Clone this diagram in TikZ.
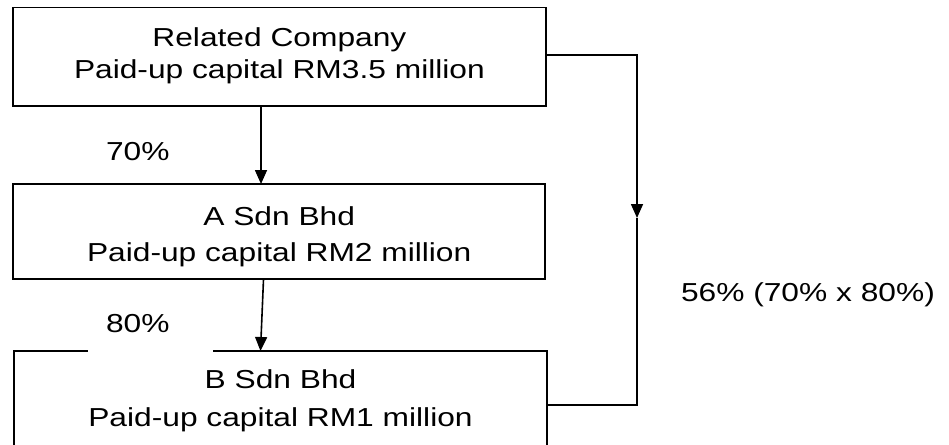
\documentclass[tikz,border=0pt]{standalone}
\usepackage{fontspec}
\setmainfont{Liberation Sans}[FakeStretch=1.22]
\usetikzlibrary{arrows.meta}
\begin{document}
\begin{tikzpicture}[x=1pt,y=-1pt,
  box/.style={draw=black, line width=1.8pt, inner sep=0pt, outer sep=0pt},
  txt/.style={font=\fontsize{26}{31}\selectfont, anchor=base, inner sep=0pt, outer sep=0pt},
  conn/.style={draw=black, line width=1.6pt},
  tiphead/.style={-{Triangle[width=12pt,length=14pt]}}]
\useasboundingbox (0,0) rectangle (949,444);
\clip (0,0) rectangle (949,444);
\fill[white] (0,0) rectangle (949,444);
% boxes
\node[box, minimum width=532.7pt, minimum height=98.5pt] (b1) at (279.35,56.75) {};
\node[box, minimum width=532.3pt, minimum height=95.3pt] (b2) at (279.15,231.65) {};
\node[box, minimum width=533pt, minimum height=149pt] (b3) at (280.5,425.5) {};
% box texts
\node[txt] (t1a) at (279.4,46.7) {Related Company};
\node[txt] (t1b) at (279.4,78.3) {Paid-up capital RM3.5 million};
\node[txt] (t2a) at (279.2,225) {A Sdn Bhd};
\node[txt] (t2b) at (279.2,261) {Paid-up capital RM2 million};
\node[txt] (t3a) at (280.5,388.7) {B Sdn Bhd};
\node[txt] (t3b) at (280.5,426) {Paid-up capital RM1 million};
% connectors
\draw[conn,tiphead] (261,0 |- b1.south) -- (261,0 |- b2.north);
\draw[conn,tiphead] (263.5,0 |- b2.south) -- (260.5,0 |- b3.north);
\coordinate (mid) at (637,218);
\draw[conn,tiphead] (b1.east |- 0,55) -| (mid);
\draw[conn, line width=1.3pt] (mid) |- (b3.east |- 0,405);
% gap behind the 80% label
\fill[white] (88,347) rectangle (213,355);
% labels
\node[txt, anchor=base west] (l70) at (106,160) {70\%};
\node[txt, anchor=base west] (l80) at (106,332) {80\%};
\node[txt, anchor=base west] (l56) at (681,301.7) {56\% (70\% x 80\%)};
\end{tikzpicture}
\end{document}
